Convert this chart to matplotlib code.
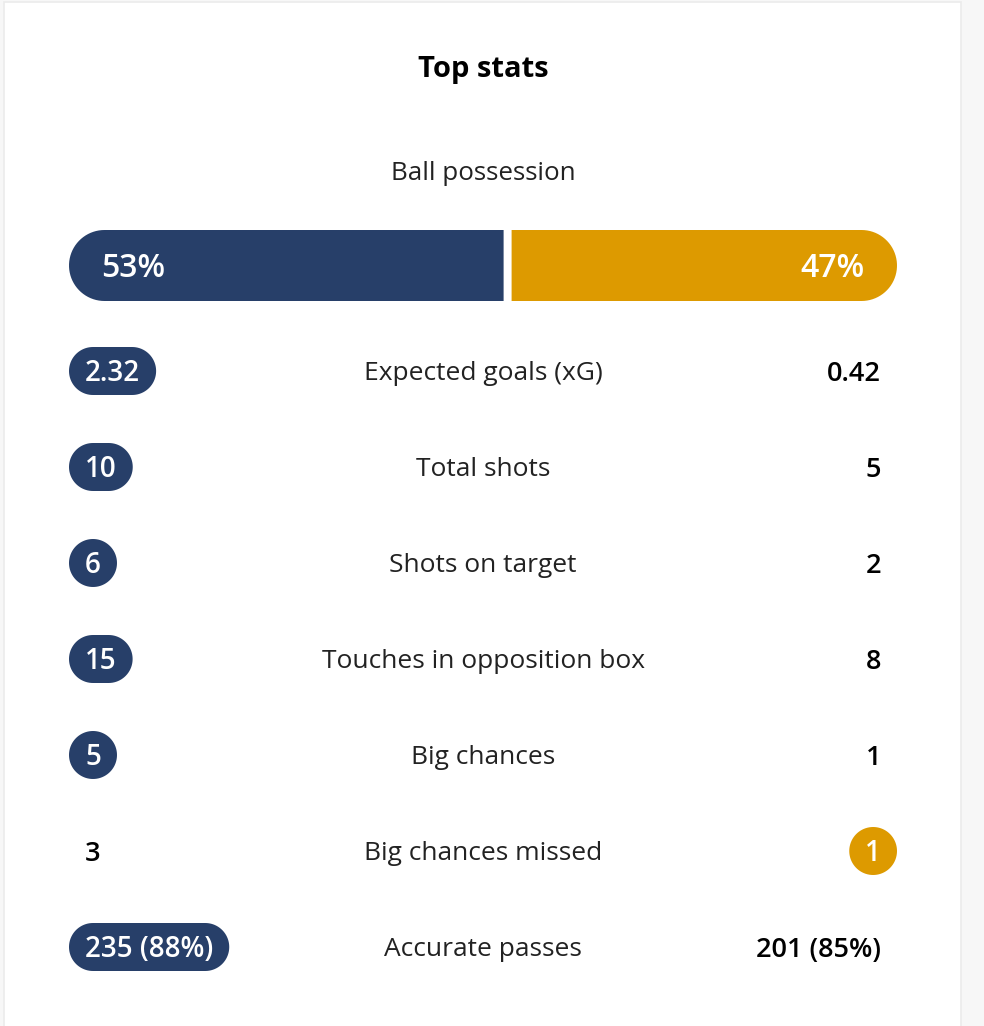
import numpy as np
import matplotlib
matplotlib.use("Agg")
import matplotlib.pyplot as plt
from matplotlib.patches import Polygon, Rectangle

# data
title = "Top stats"
possession_label = "Ball possession"
possession = [53, 47]

labels = ["Expected goals (xG)", "Total shots", "Shots on target",
          "Touches in opposition box", "Big chances", "Big chances missed",
          "Accurate passes"]
home = ["2.32", "10", "6", "15", "5", "3", "235 (88%)"]
away = ["0.42", "5", "2", "8", "1", "1", "201 (85%)"]
winner = ["home", "home", "home", "home", "home", "away", "home"]

BLUE = "#273F69"
ORANGE = "#DD9A00"
FONT = "Open Sans"

W, H = 984, 1026
fig = plt.figure(figsize=(W / 100, H / 100), dpi=100)
fig.patch.set_facecolor("#F7F7F7")
ax = fig.add_axes([0, 0, 1, 1])
ax.set_xlim(0, W)
ax.set_ylim(H, 0)
ax.axis("off")
renderer = fig.canvas.get_renderer()

# card
ax.add_patch(Rectangle((4, 2), 957, H + 10, facecolor="white",
                       edgecolor="#EBEBEB", linewidth=1.2))

LEFT, RIGHT = 69, 897
CX = 483


def text_at(x, yc, s, size, ha, color, weight="normal"):
    # yc is the visual centre of the cap height
    return ax.text(x, yc + size * 0.5, s, fontsize=size, ha=ha, va="baseline",
                   color=color, fontweight=weight, family=FONT, zorder=5)


def text_width(t):
    return t.get_window_extent(renderer=renderer).width


def capsule(x0, yc, w, h, color, round_left=True, round_right=True):
    ry = h / 2
    rx = min(ry, w / 2)
    pts = []
    if round_left:
        a = np.linspace(np.pi / 2, 3 * np.pi / 2, 40)
        pts += list(zip(x0 + rx + rx * np.cos(a), yc - ry * np.sin(a)))
    else:
        pts += [(x0, yc - ry), (x0, yc + ry)]
    if round_right:
        a = np.linspace(-np.pi / 2, np.pi / 2, 40)
        pts += list(zip(x0 + w - rx + rx * np.cos(a), yc - ry * np.sin(a)))
    else:
        pts += [(x0 + w, yc + ry), (x0 + w, yc - ry)]
    ax.add_patch(Polygon(pts, closed=True, facecolor=color, edgecolor="none"))


text_at(CX, 66, title, 21, "center", "black", "bold")
text_at(CX, 171, possession_label, 18.7, "center", "#222222")

# possession bar
gap = 8
bar_y, bar_h = 265.5, 71
avail = RIGHT - LEFT - gap
w_home = avail * possession[0] / 100
w_away = avail * possession[1] / 100
capsule(LEFT, bar_y, w_home, bar_h, BLUE, round_right=False)
capsule(LEFT + w_home + gap, bar_y, w_away, bar_h, ORANGE, round_left=False)
text_at(LEFT + 32, bar_y, "%d%%" % possession[0], 23, "left", "white", "semibold")
text_at(RIGHT - 32, bar_y, "%d%%" % possession[1], 23, "right", "white", "semibold")

# stat rows
pad, ph = 16, 48
for i, lab in enumerate(labels):
    y = 371 + 96 * i
    text_at(CX, y, lab, 19, "center", "#222222")

    if winner[i] == "home":
        t = text_at(0, y, home[i], 20, "center", "white", "semibold")
        w = max(ph, text_width(t) + 2 * pad)
        t.set_x(LEFT + w / 2)
        capsule(LEFT, y, w, ph, BLUE)
    else:
        text_at(LEFT + pad, y, home[i], 19.5, "left", "black", "semibold")

    if winner[i] == "away":
        t = text_at(0, y, away[i], 20, "center", "white", "semibold")
        w = max(ph - 4, text_width(t) + 2 * pad)
        t.set_x(RIGHT - w / 2)
        capsule(RIGHT - w, y, w, ph, ORANGE)
    else:
        text_at(RIGHT - pad, y, away[i], 19.5, "right", "black", "semibold")

fig.savefig("out.png", dpi=100, facecolor=fig.get_facecolor())
